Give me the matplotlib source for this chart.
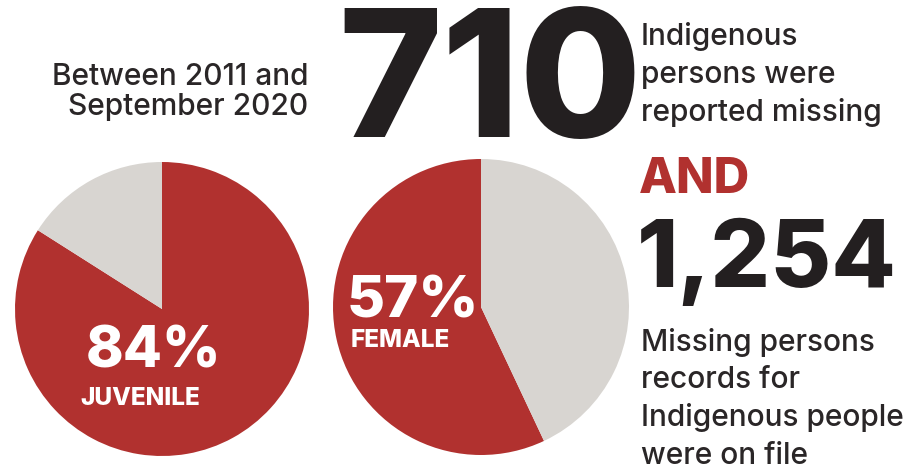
import matplotlib
matplotlib.use("Agg")
import matplotlib.pyplot as plt

W, H = 923, 476
red = "#b1312f"
gray = "#d8d5d1"
dark = "#231f20"

juvenile_share = [84, 16]
female_share = [57, 43]
missing_count = "710"
records_count = "1,254"
pie_labels = [("84%", "JUVENILE"), ("57%", "FEMALE")]
intro_lines = ["Between 2011 and", "September 2020"]
right_top_lines = ["Indigenous", "persons were", "reported missing"]
right_bottom_lines = ["Missing persons", "records for", "Indigenous people", "were on file"]

fig = plt.figure(figsize=(W / 100, H / 100), dpi=100)
ax = fig.add_axes([0, 0, 1, 1])

def Y(y):
    return H - y

ax.pie(juvenile_share, colors=[red, gray], startangle=90, counterclock=False,
       center=(162, Y(309)), radius=147, frame=True,
       wedgeprops=dict(linewidth=0))
ax.pie(female_share, colors=[red, gray], startangle=90, counterclock=True,
       center=(481, Y(307)), radius=148, frame=True,
       wedgeprops=dict(linewidth=0))
ax.set_xlim(0, W)
ax.set_ylim(0, H)
ax.set_aspect("equal")
ax.axis("off")

font = "Inter"
body_kw = dict(fontsize=21.5, fontweight="medium", color="#2a2627", family=font,
               va="baseline")

for i, line in enumerate(intro_lines):
    ax.text(308, Y(85 + i * 30), line, ha="right", **body_kw)

ax.text(338, Y(137), missing_count, ha="left", va="baseline", fontsize=127,
        fontweight="heavy", color=dark, family=font)

for i, line in enumerate(right_top_lines):
    ax.text(641, Y(45 + i * 38), line, ha="left", **body_kw)

ax.text(639, Y(193), "AND", ha="left", va="baseline", fontsize=35.5,
        fontweight="heavy", color=red, family=font)

ax.text(637, Y(287), records_count, ha="left", va="baseline", fontsize=67.5,
        fontweight="heavy", color=dark, family=font)

for i, line in enumerate(right_bottom_lines):
    ax.text(641, Y(351 + i * 37.5), line, ha="left", **body_kw)

ax.text(153, Y(368), pie_labels[0][0], ha="center", va="baseline", fontsize=41,
        fontweight="heavy", color="white", family=font)
ax.text(140, Y(405), pie_labels[0][1], ha="center", va="baseline", fontsize=17.5,
        fontweight="heavy", color="white", family=font)
ax.text(413, Y(317), pie_labels[1][0], ha="center", va="baseline", fontsize=42,
        fontweight="heavy", color="white", family=font)
ax.text(400, Y(347), pie_labels[1][1], ha="center", va="baseline", fontsize=17.5,
        fontweight="heavy", color="white", family=font)

fig.savefig("out.png", dpi=100, facecolor="white")
